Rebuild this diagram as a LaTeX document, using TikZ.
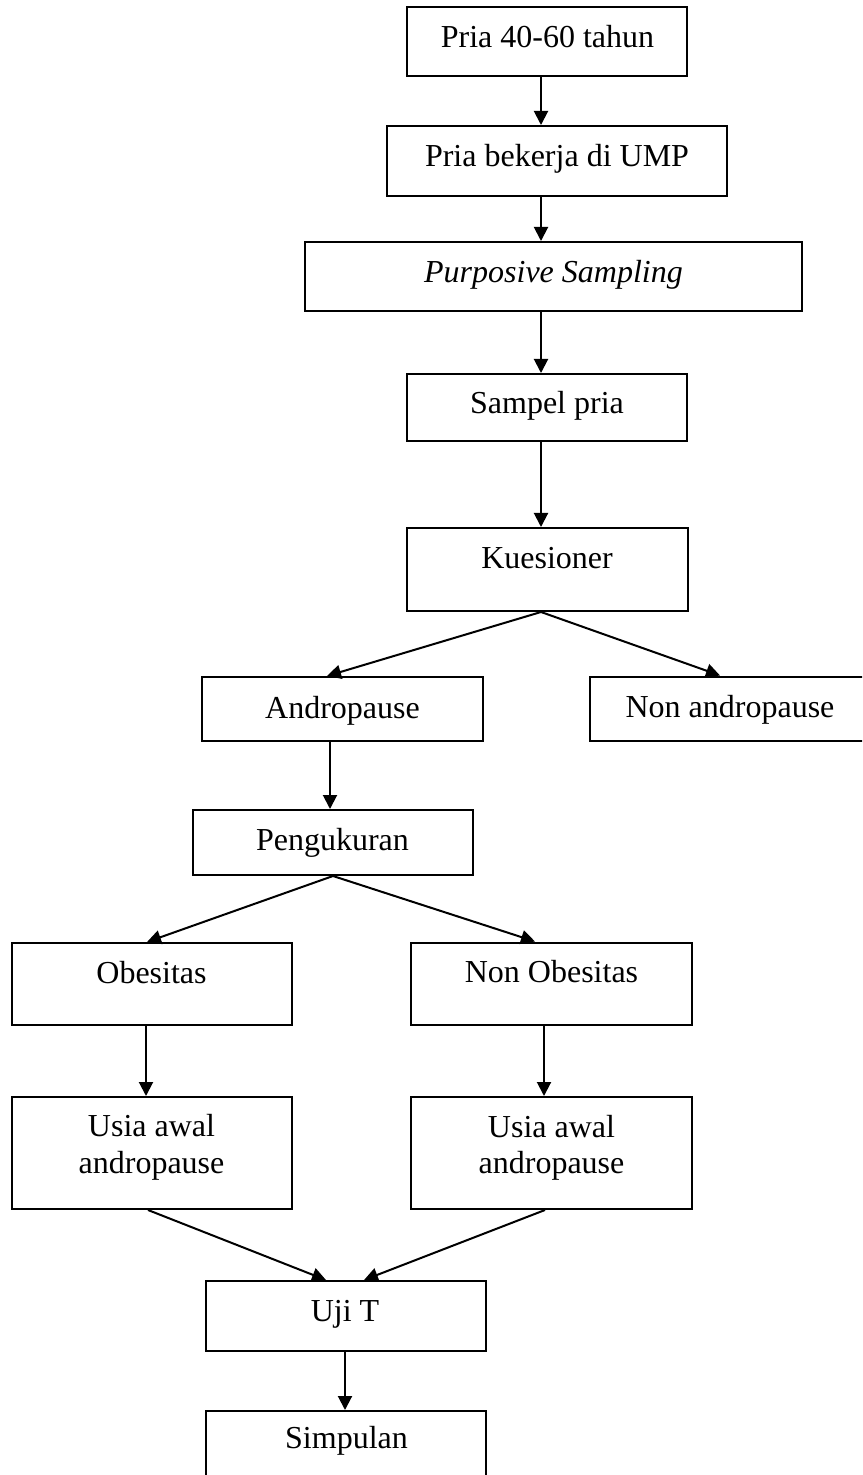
\documentclass[tikz,border=0pt]{standalone}
\usepackage{fontspec}
\setmainfont{Liberation Serif}
\usetikzlibrary{arrows.meta}
\begin{document}
\begin{tikzpicture}[x=0.5pt,y=-0.5pt,
  box/.style={draw=black,line width=1pt,rectangle,inner sep=0pt,fill=none},
  txt/.style={inner sep=0pt,anchor=base,font=\fontsize{16}{18.5}\selectfont},
  arr/.style={draw=black,line width=1pt,-{Triangle[length=7pt,width=7pt]}}]
\clip (0,0) rectangle (862,1475);
\fill[white] (0,0) rectangle (862,1475);
% boxes
\node[box,minimum width=140pt,minimum height=34.5pt] (b1) at (547,41.5) {};
\node[box,minimum width=170pt,minimum height=35pt] (b2) at (557,161) {};
\node[box,minimum width=248.5pt,minimum height=34.5pt] (b3) at (553.5,276.5) {};
\node[box,minimum width=140pt,minimum height=33.5pt] (b4) at (547,407.5) {};
\node[box,minimum width=140.5pt,minimum height=41.5pt] (b5) at (547.5,569.5) {};
\node[box,minimum width=140.5pt,minimum height=32pt] (b6) at (342.5,709) {};
\node[box,minimum width=140pt,minimum height=32pt] (b7) at (730,708.5) {};
\node[box,minimum width=140pt,minimum height=32.5pt] (b8) at (333,842.5) {};
\node[box,minimum width=140pt,minimum height=41pt] (b9) at (152,984) {};
\node[box,minimum width=140.5pt,minimum height=41pt] (b10) at (551.5,983.5) {};
\node[box,minimum width=140pt,minimum height=56pt] (b11) at (152,1153) {};
\node[box,minimum width=140.5pt,minimum height=56pt] (b12) at (551.5,1153) {};
\node[box,minimum width=140pt,minimum height=35pt] (b13) at (346,1316) {};
\node[box,minimum width=140pt,minimum height=37pt] (b14) at (346,1448) {};
% texts
\node[txt] (t1) at (547.5,48) {Pria 40-60 tahun};
\node[txt] (t2) at (557,167) {Pria bekerja di UMP};
\node[txt] (t3) at (553.5,283) {\itshape Purposive Sampling};
\node[txt] (t4) at (547,413.5) {Sampel pria};
\node[txt] (t5) at (547,568) {Kuesioner};
\node[txt] (t6) at (342.5,718) {Andropause};
\node[txt] (t7) at (730,717) {Non andropause};
\node[txt] (t8) at (332.5,850) {Pengukuran};
\node[txt] (t9) at (151.5,983) {Obesitas};
\node[txt] (t10) at (551.5,982) {Non Obesitas};
\node[txt] (t11a) at (151.5,1136) {Usia awal};
\node[txt] (t11b) at (151.5,1173) {andropause};
\node[txt] (t12a) at (551.5,1137) {Usia awal};
\node[txt] (t12b) at (551.5,1173) {andropause};
\node[txt] (t13) at (345,1321) {Uji T};
\node[txt] (t14) at (346.5,1448) {Simpulan};
% connectors
\draw[arr] ([xshift=-3pt]b1.south) -- ([xshift=-8pt]b2.north);
\draw[arr] ([xshift=-8pt]b2.south) -- ([xshift=-6.25pt]b3.north);
\draw[arr] ([xshift=-6.25pt]b3.south) -- ([xshift=-3pt]b4.north);
\draw[arr] ([xshift=-3pt]b4.south) -- ([xshift=-3.25pt]b5.north);
\draw[arr] ([xshift=-3.25pt]b5.south) -- ([xshift=-7.75pt]b6.north);
\draw[arr] ([xshift=-3.25pt]b5.south) -- ([xshift=-5pt]b7.north);
\draw[arr] ([xshift=-6.25pt]b6.south) -- ([xshift=-1.5pt]b8.north);
\draw[arr] (b8.south) -- ([xshift=-2.5pt]b9.north);
\draw[arr] (b8.south) -- ([xshift=-8.25pt]b10.north);
\draw[arr] ([xshift=-3pt]b9.south) -- ([xshift=-3pt]b11.north);
\draw[arr] ([xshift=-3.75pt]b10.south) -- ([xshift=-3.75pt]b12.north);
\draw[arr] ([xshift=-2pt]b11.south) -- ([xshift=-10pt]b13.north);
\draw[arr] ([xshift=-3.25pt]b12.south) -- ([xshift=9pt]b13.north);
\draw[arr] ([xshift=-0.5pt]b13.south) -- ([xshift=-0.5pt]b14.north);
\end{tikzpicture}
\end{document}
